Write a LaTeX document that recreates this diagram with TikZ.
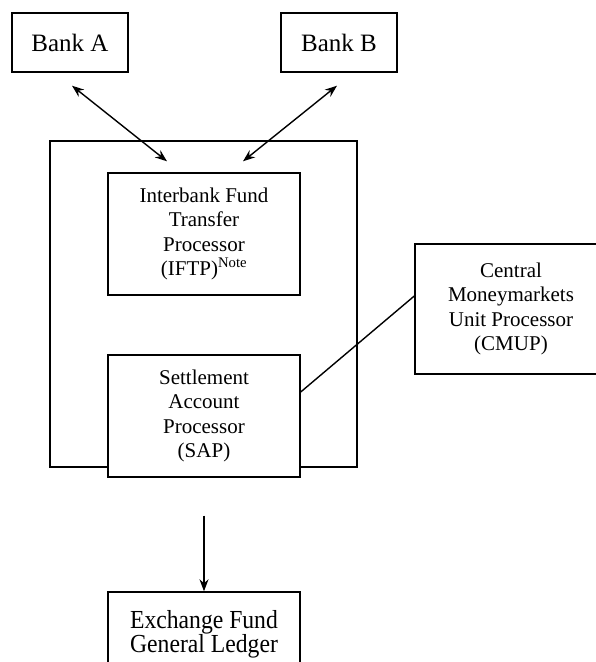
\documentclass[tikz,border=0pt]{standalone}
\usepackage{fontspec}
\setmainfont{Liberation Serif}
\newfontfamily\narrowfont[FakeStretch=0.91]{Liberation Serif}
\usetikzlibrary{arrows.meta}

\tikzset{
  bankbox/.style={draw, line width=1.4pt, fill=white, minimum width=116pt, minimum height=59pt, inner sep=0pt, font=\fontsize{25}{28}\selectfont},
  procbox/.style={draw, line width=1.4pt, fill=white, minimum width=192pt, minimum height=122pt, inner sep=0pt, align=center, font=\fontsize{21}{24.3}\selectfont},
  link/.style={line width=1.4pt},
  twoway/.style={line width=1.4pt, {Stealth[length=12pt,width=9pt]}-{Stealth[length=12pt,width=9pt]}},
  oneway/.style={line width=1.4pt, -{Stealth[length=12pt,width=9pt]}}
}

\begin{document}
\begin{tikzpicture}[x=1pt, y=-1pt]
\useasboundingbox (0,0) rectangle (596,662);
\clip (0,0) rectangle (596,662);
\fill[white] (0,0) rectangle (596,662);

\node[bankbox] (bankA) at (70,42.5) {Bank A};
\node[bankbox] (bankB) at (339,42.5) {Bank B};

\node[draw, line width=1.4pt, minimum width=307pt, minimum height=326pt, inner sep=0pt] (frame) at (203.5,304) {};

\node[procbox] (iftp) at (204,234) {Interbank Fund\\Transfer\\Processor\\(IFTP)\textsuperscript{Note}};
\node[procbox] (sap) at (204,416) {Settlement\\Account\\Processor\\(SAP)};
\node[procbox, minimum height=130pt] (cmup) at (511,309) {Central\\Moneymarkets\\Unit Processor\\(CMUP)};
\node[procbox, minimum height=84pt, font=\narrowfont\fontsize{26}{24}\selectfont] (exch) at (204,634) {Exchange Fund\\General Ledger};

\draw[twoway] ([xshift=2pt,yshift=-13pt]bankA.south) -- ([xshift=-37pt,yshift=11pt]iftp.north);
\draw[twoway] ([xshift=-2pt,yshift=-13pt]bankB.south) -- ([xshift=39pt,yshift=11pt]iftp.north);
\draw[link] ([yshift=24pt]sap.east) -- ([yshift=13pt]cmup.west);
\draw[oneway] ([yshift=-38pt]sap.south) -- (exch.north);
\end{tikzpicture}
\end{document}
